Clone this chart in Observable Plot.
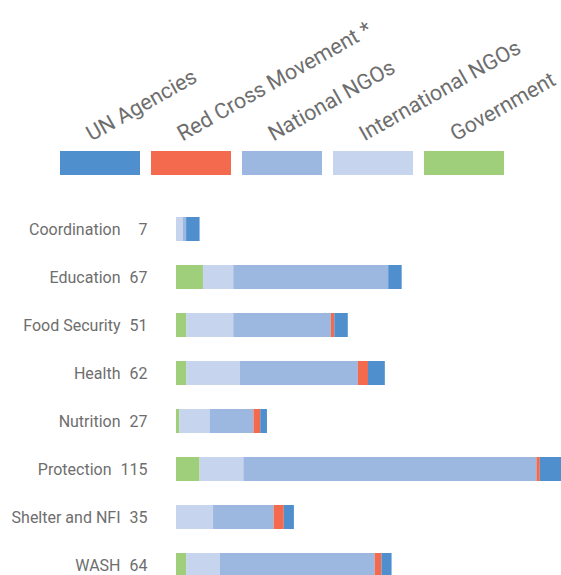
<!DOCTYPE html>
<html>
<head>
<meta charset="utf-8">
<script src="https://cdn.jsdelivr.net/npm/d3@7"></script>
<script src="https://cdn.jsdelivr.net/npm/@observablehq/plot@0.6"></script>
<style>
  html, body { margin: 0; padding: 0; overflow: hidden; background: white; }
  #chart svg { display: block; }
</style>
</head>
<body>
<div id="chart"></div>
<script>
const categories = ["Coordination", "Education", "Food Security", "Health", "Nutrition", "Protection", "Shelter and NFI", "WASH"];
const totals = [7, 67, 51, 62, 27, 115, 35, 64];
const government = [0, 8, 3, 3, 1, 7, 0, 3];
const internationalNGOs = [2, 9, 14, 16, 9, 13, 11, 10];
const nationalNGOs = [1, 46, 29, 35, 13, 87, 18, 46];
const redCross = [0, 0, 1, 3, 2, 1, 3, 2];
const unAgencies = [4, 4, 4, 5, 2, 7, 3, 3];

const legendOrder = ["UN Agencies", "Red Cross Movement *", "National NGOs", "International NGOs", "Government"];
const colors = ["#4f8fcd", "#f36a4f", "#9cb8e0", "#c6d4ed", "#9fcf7a"];

const stackSeries = [
  ["Government", government],
  ["International NGOs", internationalNGOs],
  ["National NGOs", nationalNGOs],
  ["Red Cross Movement *", redCross],
  ["UN Agencies", unAgencies]
];

const rows = [];
for (const [series, values] of stackSeries) {
  categories.forEach((c, i) => rows.push({category: c, series, value: values[i]}));
}
const labels = categories.map((c, i) => ({category: c, total: totals[i]}));

const textColor = "#6e6e6e";

const legend = Plot.plot({
  width: 561,
  height: 190,
  marginTop: 151,
  marginBottom: 15,
  marginLeft: 0,
  marginRight: 0,
  style: {fontFamily: "Roboto", background: "white", overflow: "visible"},
  x: {type: "band", domain: legendOrder, range: [59, 505], paddingInner: 0.126, paddingOuter: 0, axis: null},
  color: {domain: legendOrder, range: colors},
  marks: [
    Plot.cell(legendOrder, {x: d => d, fill: d => d, inset: 0}),
    Plot.text(legendOrder, {
      x: d => d, text: d => d, frameAnchor: "top", textAnchor: "start", lineAnchor: "bottom",
      rotate: -29.5, dx: -9, dy: -10, fontSize: 21.5, fill: textColor
    })
  ]
});

const chart = Plot.plot({
  width: 561,
  height: 400,
  marginTop: 27,
  marginBottom: 13,
  marginLeft: 176,
  marginRight: 0,
  style: {fontFamily: "Roboto", background: "white", overflow: "visible"},
  x: {domain: [0, 114.3], axis: null},
  y: {type: "band", domain: categories, paddingInner: 0.5, paddingOuter: 0, axis: null},
  color: {domain: legendOrder, range: colors},
  marks: [
    Plot.barX(rows, {y: "category", x: "value", fill: "series", inset: 0}),
    Plot.text(labels, {y: "category", text: "total", frameAnchor: "left", textAnchor: "end", dx: -29, fontSize: 16, fill: textColor}),
    Plot.text(labels.filter(d => d.total < 100), {y: "category", text: "category", frameAnchor: "left", textAnchor: "end", dx: -56, fontSize: 16, fill: textColor}),
    Plot.text(labels.filter(d => d.total >= 100), {y: "category", text: "category", frameAnchor: "left", textAnchor: "end", dx: -65, fontSize: 16, fill: textColor})
  ]
});

const el = document.getElementById("chart");
el.appendChild(legend);
el.appendChild(chart);
</script>
</body>
</html>
